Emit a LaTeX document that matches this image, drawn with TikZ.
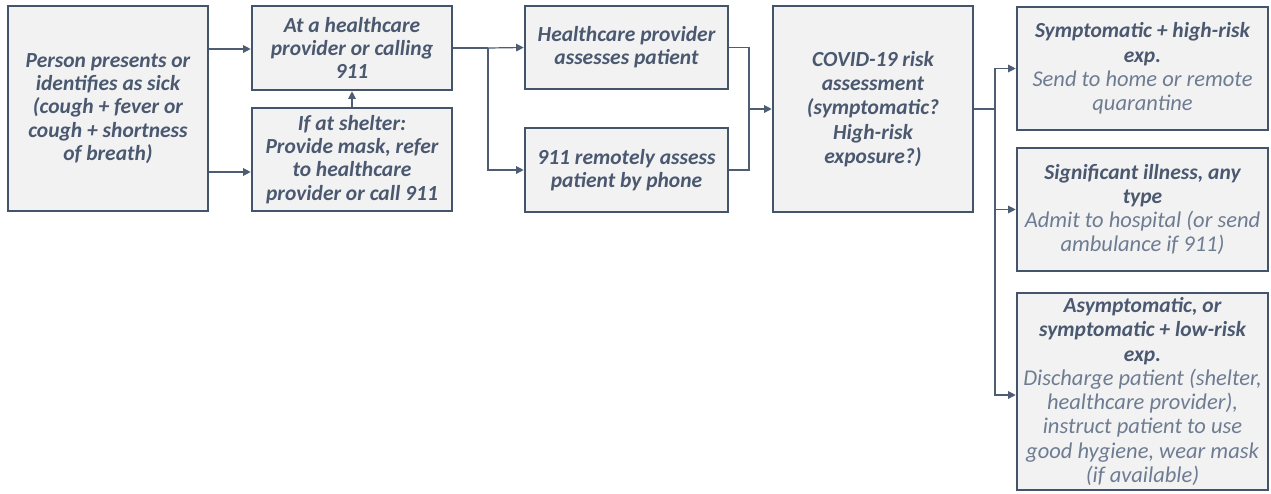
\documentclass[tikz,border=0pt]{standalone}
\usepackage{fontspec}
\setmainfont{Carlito}[ItalicFont={Carlito Italic},BoldFont={Carlito Bold},BoldItalicFont={Carlito Bold Italic}]
\usetikzlibrary{arrows.meta,calc}
\definecolor{bord}{HTML}{44546A}
\definecolor{boxfill}{HTML}{F2F2F2}
\definecolor{tbold}{HTML}{4A5870}
\definecolor{tlight}{HTML}{6E7C92}
\definecolor{lin}{HTML}{4F5D74}
\newcommand{\lite}[1]{{\fontsize{22.5}{24}\fontseries{m}\fontshape{it}\selectfont\color{tlight}#1}}
\begin{document}
\begin{tikzpicture}[x=1pt,y=-1pt,
  box/.style={draw=bord, line width=2.6pt, fill=boxfill, inner sep=0pt, align=center,
    font=\fontsize{21.5}{23.2}\selectfont\bfseries\itshape, text=tbold},
  wide/.style={font=\fontsize{21.5}{24.3}\selectfont\bfseries\itshape},
  arr/.style={draw=lin, line width=1.2pt, -{Triangle[length=7.5pt,width=7.5pt]}},
  ln/.style={draw=lin, line width=1.2pt}]
\useasboundingbox[fill=white] (0,0) rectangle (1271,493);
\node[box, minimum width=200pt, minimum height=205pt] (A) at (108,108.5)
  {Person presents or\\identifies as sick\\(cough + fever or\\cough + shortness\\of breath)};
\node[box, minimum width=200pt, minimum height=84pt] (B) at (352,48)
  {At a healthcare\\provider or calling\\911};
\node[box, minimum width=200pt, minimum height=103pt] (C) at (352,159.5)
  {If at shelter:\\Provide mask, refer\\to healthcare\\provider or call 911};
\node[box, minimum width=203pt, minimum height=83pt] (D) at (626.5,47.5)
  {Healthcare provider\\assesses patient};
\node[box, minimum width=203pt, minimum height=84pt] (E) at (626.5,170)
  {911 remotely assess\\patient by phone};
\node[box, wide, minimum width=200pt, minimum height=206pt] (F) at (873,109)
  {COVID-19 risk\\assessment\\(symptomatic?\\High-risk\\exposure?)};
\node[box, wide, minimum width=251pt, minimum height=123pt] (G) at (1142.5,68.5)
  {Symptomatic + high-risk\\exp.\\\lite{Send to home or remote}\\\lite{quarantine}};
\node[box, wide, minimum width=251pt, minimum height=123pt] (H) at (1142.5,209.5)
  {Significant illness, any\\type\\\lite{Admit to hospital (or send}\\\lite{ambulance if 911)}};
\node[box, wide, minimum width=251pt, minimum height=197pt] (I) at (1142.5,391.5)
  {Asymptomatic, or\\symptomatic + low-risk\\exp.\\\lite{Discharge patient (shelter,}\\\lite{healthcare provider),}\\\lite{instruct patient to use}\\\lite{good hygiene, wear mask}\\\lite{(if available)}};
% connectors
\coordinate (ab) at ([yshift=-1pt]B.west);
\coordinate (ac) at ([yshift=-12.5pt]C.west);
\draw[arr] (A.east |- ab) -- (ab);
\draw[arr] (A.east |- ac) -- (ac);
\draw[arr] (C.north) -- (B.south);
\coordinate (s1) at (488,48);
\draw[ln] (B.east) -- (s1);
\draw[arr] (s1) -- (D.west);
\draw[arr] (s1) |- (E.west);
\coordinate (m) at (749,109);
\draw[ln] (D.east) -| (m);
\draw[ln] (E.east) -| (m);
\draw[arr] (m) -- (F.west);
\coordinate (r) at (995,109);
\draw[ln] (F.east) -- (r);
\draw[arr] (r) |- (G.west);
\draw[arr] (r) |- (H.west);
\coordinate (ri) at ([yshift=-3.5pt]I.west);
\draw[arr] (r) |- (ri);
\end{tikzpicture}
\end{document}
